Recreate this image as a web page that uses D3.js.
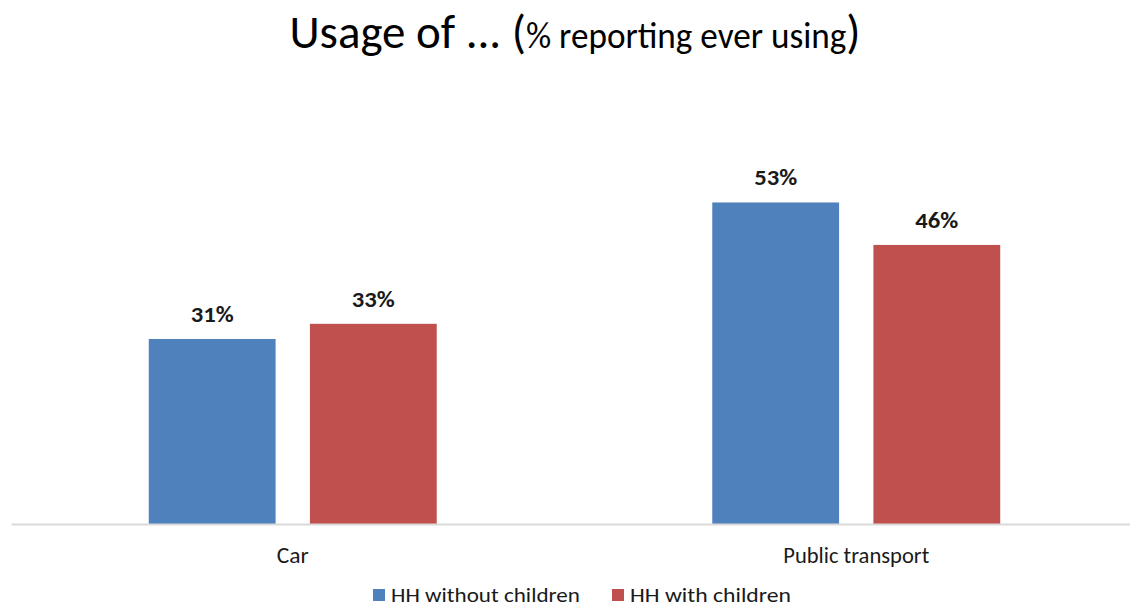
<!DOCTYPE html>
<html>
<head>
<meta charset="utf-8">
<script src="https://cdn.jsdelivr.net/npm/d3@7"></script>
<style>
  body { margin: 0; background: #fff; }
  svg { display: block; font-family: Carlito, Lato, "Open Sans", sans-serif; }
</style>
</head>
<body>
<svg width="1130" height="607"></svg>
<script>
// data
var categories = ["Car", "Public transport"];
var seriesNames = ["HH without children", "HH with children"];
var withoutChildren = [30.5, 53];
var withChildren = [33, 46];
var colors = ["#4f81bd", "#c0504d"];

var svg = d3.select("svg"),
    margin = { top: 160, right: -8, bottom: 83, left: 11 },
    width = +svg.attr("width") - margin.left - margin.right,
    height = +svg.attr("height") - margin.top - margin.bottom;

var data = categories.map(function (c, i) {
    return { cat: c, values: [withoutChildren[i], withChildren[i]] };
});

// outer band per category, inner band per series
var x0 = d3.scaleBand().domain(categories).range([0, width])
    .paddingInner(0.489).paddingOuter(0.2445);
var x1 = d3.scaleBand().domain(d3.range(seriesNames.length)).range([0, x0.bandwidth()])
    .paddingInner(0.213);
var y = d3.scaleLinear().domain([0, 60]).range([height, 0]);

var g = svg.append("g")
    .attr("transform", "translate(" + margin.left + "," + margin.top + ")");

// title, big brackets with smaller text inside
var title = svg.append("text")
    .attr("x", 575)
    .attr("y", 48)
    .attr("text-anchor", "middle")
    .attr("fill", "#000")
    .attr("textLength", 571)
    .attr("lengthAdjust", "spacingAndGlyphs");
title.append("tspan").style("font-size", "48px").text("Usage of ... (");
title.append("tspan").style("font-size", "36px").text("% reporting ever using");
title.append("tspan").style("font-size", "48px").text(")");

var groups = g.selectAll(".grp")
    .data(data)
    .enter().append("g")
    .attr("class", "grp")
    .attr("transform", function (d) { return "translate(" + x0(d.cat) + ",0)"; });

groups.selectAll("rect")
    .data(function (d) { return d.values; })
    .enter().append("rect")
    .attr("x", function (d, i) { return x1(i); })
    .attr("y", function (d) { return y(d); })
    .attr("width", x1.bandwidth())
    .attr("height", function (d) { return height - y(d); })
    .attr("fill", function (d, i) { return colors[i]; });

groups.selectAll(".lbl")
    .data(function (d) { return d.values; })
    .enter().append("text")
    .attr("class", "lbl")
    .attr("x", function (d, i) { return x1(i) + x1.bandwidth() / 2; })
    .attr("y", function (d) { return y(d) - 17; })
    .attr("text-anchor", "middle")
    .attr("textLength", 43)
    .attr("lengthAdjust", "spacingAndGlyphs")
    .style("font-size", "22px")
    .style("font-weight", "bold")
    .attr("fill", "#1a1a1a")
    .text(function (d) { return Math.round(d) + "%"; });

// x axis
var xAxis = g.append("g")
    .attr("transform", "translate(0," + height + ")")
    .call(d3.axisBottom(x0).tickSize(0).tickPadding(23));
xAxis.select(".domain").attr("stroke", "#d9d9d9").attr("stroke-width", 2);
var catWidths = { "Car": 32, "Public transport": 146 };
xAxis.selectAll("text")
    .style("font-family", "Carlito, Lato, 'Open Sans', sans-serif")
    .style("font-size", "23px")
    .attr("fill", "#1a1a1a")
    .attr("textLength", function (d) { return catWidths[d]; })
    .attr("lengthAdjust", "spacingAndGlyphs");

// legend
var legWidths = [189, 161];
var legend = svg.append("g").attr("transform", "translate(373,589)");
var items = legend.selectAll(".item")
    .data(seriesNames)
    .enter().append("g")
    .attr("class", "item")
    .attr("transform", function (d, i) { return "translate(" + (i * 239) + ",0)"; });
items.append("rect")
    .attr("width", 12).attr("height", 12)
    .attr("fill", function (d, i) { return colors[i]; });
items.append("text")
    .attr("x", 18).attr("y", 13)
    .style("font-size", "21px")
    .attr("fill", "#1a1a1a")
    .attr("textLength", function (d, i) { return legWidths[i]; })
    .attr("lengthAdjust", "spacingAndGlyphs")
    .text(function (d) { return d; });
</script>
</body>
</html>
